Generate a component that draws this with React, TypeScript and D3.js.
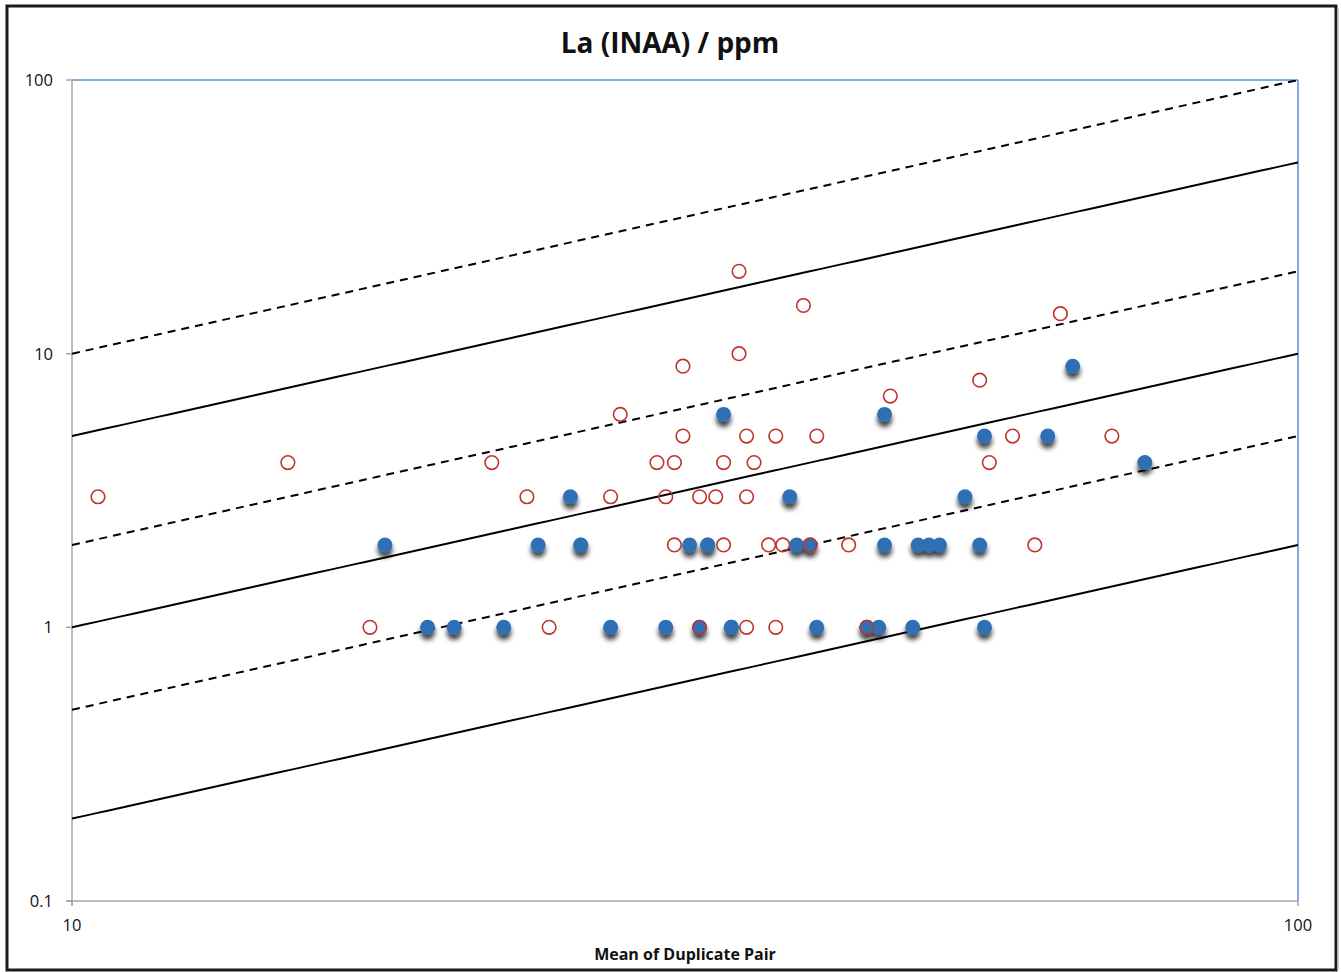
import React from 'react';
import * as d3 from 'd3';

// duplicate pairs: [mean of pair, difference]
const redPoints: [number, number][] = [
  [10.5, 3], [15, 4], [17.5, 1], [22, 4], [23.5, 3], [24.5, 1], [27.5, 3],
  [28, 6], [30, 4], [30.5, 3], [31, 4], [31, 2], [31.5, 9], [31.5, 5],
  [32.5, 3], [32.5, 1], [33.5, 3], [34, 4], [34, 2], [35, 20], [35, 10],
  [35.5, 5], [35.5, 3], [35.5, 1], [36, 4], [37, 2], [37.5, 5], [37.5, 1],
  [38, 2], [39.5, 15], [40, 2], [40.5, 5], [43, 2], [44.5, 1], [46.5, 7],
  [55, 8], [56, 4], [58.5, 5], [61, 2], [64, 14], [70.5, 5],
];

const bluePoints: [number, number][] = [
  [18, 2], [19.5, 1], [20.5, 1], [22.5, 1], [24, 2], [25.5, 3], [26, 2],
  [26, 2], [27.5, 1], [30.5, 1], [31.9, 2], [32.5, 1], [33, 2], [33, 2],
  [34, 6], [34.5, 1], [34.5, 1], [38.5, 3], [39, 2], [40, 2], [40.5, 1],
  [44.5, 1], [44.5, 1], [45.5, 1], [46, 2], [46, 6], [48.5, 1], [49, 2],
  [50, 2], [51, 2], [53.5, 3], [55, 2], [55.5, 5], [55.5, 1], [62.5, 5],
  [65.5, 9], [75, 4],
];

// precision lines y = k * x
const solidRatios = [0.5, 0.1, 0.02];
const dashedRatios = [1, 0.2, 0.05];

const xTicks = [10, 100];
const yTicks = [0.1, 1, 10, 100];

const W = 1341;
const H = 972;
const margin = { top: 80, right: 43, bottom: 71, left: 72 };

const font = '"Open Sans", Lato, sans-serif';

export default function App() {
  const x = d3.scaleLog().domain([10, 100]).range([margin.left, W - margin.right]);
  const y = d3.scaleLog().domain([0.1, 100]).range([H - margin.bottom, margin.top]);

  const ratioPath = (k: number) => {
    const pts = d3.range(0, 101).map((i) => 10 * Math.pow(10, i / 100));
    return d3
      .line<number>()
      .x((d) => x(d))
      .y((d) => y(k * d))(pts);
  };

  const x0 = x(10);
  const x1 = x(100);
  const y0 = y(0.1);
  const y1 = y(100);

  return (
    <svg
      width={W}
      height={H}
      style={{ position: 'absolute', left: 0, top: 0 }}
      fontFamily={font}
    >
      <defs>
        <filter id="shadow" x="-60%" y="-60%" width="220%" height="260%">
          <feDropShadow dx="0" dy="5" stdDeviation="2.6" floodColor="#000" floodOpacity="0.75" />
        </filter>
        <clipPath id="plot">
          <rect x={x0} y={y1} width={x1 - x0} height={y0 - y1} />
        </clipPath>
      </defs>
      <rect x={0} y={0} width={W} height={H} fill="#fff" />
      <rect x={7} y={6} width={1329} height={964} fill="none" stroke="#1a1a1a" strokeWidth={3} />
      <line x1={1338} y1={8} x2={1338} y2={970} stroke="#bbb" strokeWidth={1.5} />

      <text x={670} y={53} textAnchor="middle" fontSize={28} fontWeight="bold" fill="#111">
        La (INAA) / ppm
      </text>

      {/* frame */}
      <line x1={x0} y1={y1} x2={x1} y2={y1} stroke="#5a8ed0" strokeWidth={1.5} />
      <line x1={x1} y1={y1} x2={x1} y2={y0} stroke="#5a8ed0" strokeWidth={1.5} />
      <line x1={x0} y1={y1} x2={x0} y2={y0 + 5} stroke="#a6a6a6" strokeWidth={1.5} />
      <line x1={x0 - 6} y1={y0} x2={x1} y2={y0} stroke="#a6a6a6" strokeWidth={1.5} />

      {yTicks.map((t) => (
        <g key={'y' + t}>
          <line x1={x0 - 6} x2={x0} y1={y(t)} y2={y(t)} stroke="#a6a6a6" strokeWidth={1.5} />
          <text x={x0 - 19} y={y(t)} dy="0.36em" textAnchor="end" fontSize={16.5} fill="#111">
            {t}
          </text>
        </g>
      ))}
      {xTicks.map((t) => (
        <g key={'x' + t}>
          <line x1={x(t)} x2={x(t)} y1={y0} y2={y0 + 5} stroke="#a6a6a6" strokeWidth={1.5} />
          <text x={x(t)} y={y0 + 30} textAnchor="middle" fontSize={16.5} fill="#111">
            {t}
          </text>
        </g>
      ))}

      <text x={685} y={960} textAnchor="middle" fontSize={16} fontWeight="bold" fill="#111">
        Mean of Duplicate Pair
      </text>

      <g clipPath="url(#plot)">
        {solidRatios.map((k) => (
          <path key={'s' + k} d={ratioPath(k) || ''} fill="none" stroke="#000" strokeWidth={2} />
        ))}
        {dashedRatios.map((k) => (
          <path
            key={'d' + k}
            d={ratioPath(k) || ''}
            fill="none"
            stroke="#000"
            strokeWidth={2}
            strokeDasharray="8 6"
          />
        ))}
      </g>

      <g filter="url(#shadow)">
        {bluePoints.map(([a, b], i) => (
          <circle key={'b' + i} cx={x(a)} cy={y(b)} r={7.5} fill="#2f6fb3" />
        ))}
      </g>
      <g>
        {redPoints.map(([a, b], i) => (
          <circle
            key={'r' + i}
            cx={x(a)}
            cy={y(b)}
            r={6.8}
            fill="none"
            stroke="#c0342c"
            strokeWidth={1.6}
          />
        ))}
      </g>
    </svg>
  );
}
